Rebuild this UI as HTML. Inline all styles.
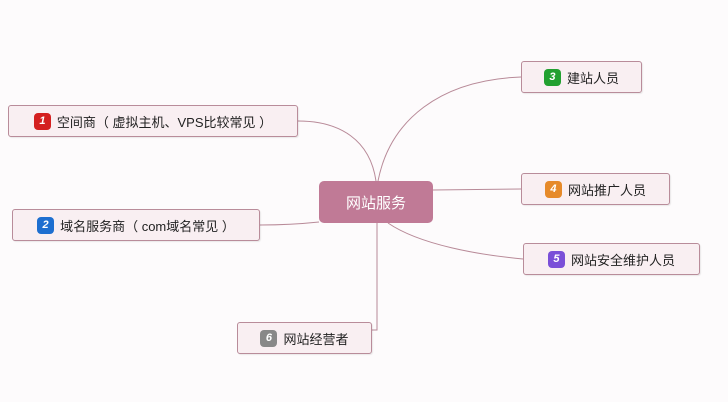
<!DOCTYPE html>
<html><head><meta charset="utf-8"><style>
body{margin:0;width:728px;height:402px;background:#fdfbfc;position:relative;overflow:hidden;font-family:"Liberation Sans","Noto Sans CJK SC",sans-serif}
.n{position:absolute;height:32px;border:1px solid #b98c9a;border-radius:3px;background:#f9eff2;box-sizing:border-box;font-size:13px;color:#222;display:flex;align-items:center;justify-content:center;gap:6px;box-shadow:1px 1px 1px rgba(0,0,0,.08)}
.i{width:17px;height:17px;border-radius:4px;color:#fff;font-size:11px;font-style:italic;font-weight:bold;display:flex;align-items:center;justify-content:center}
.c{position:absolute;left:319px;top:181px;width:114px;height:42px;background:#c07a96;border-radius:5px;color:#fff;font-size:15px;display:flex;align-items:center;justify-content:center}
</style></head><body>
<svg width="728" height="402" style="position:absolute;left:0;top:0">
<g fill="none" stroke="#b88a98" stroke-width="1">
<path d="M376 181 C370 140,340 121,298 121"/>
<path d="M378 181 C390 120,440 80,521 77"/>
<path d="M433 190 L521 189"/>
<path d="M388 223 C420 245,480 255,523 259"/>
<path d="M377 223 L377 330 L372 330"/>
<path d="M319 222 C300 224,280 225,260 225"/>
</g></svg>
<div class="c">网站服务</div>
<div class="n" style="left:8px;top:105px;width:290px"><span class="i" style="background:#d42020">1</span>空间商（ 虚拟主机、VPS比较常见 ）</div>
<div class="n" style="left:12px;top:209px;width:248px"><span class="i" style="background:#1e6fd0">2</span>域名服务商（ com域名常见 ）</div>
<div class="n" style="left:521px;top:61px;width:121px"><span class="i" style="background:#22a030">3</span>建站人员</div>
<div class="n" style="left:521px;top:173px;width:149px"><span class="i" style="background:#e68a2a">4</span>网站推广人员</div>
<div class="n" style="left:523px;top:243px;width:177px"><span class="i" style="background:#7a4fd8">5</span>网站安全维护人员</div>
<div class="n" style="left:237px;top:322px;width:135px"><span class="i" style="background:#888">6</span>网站经营者</div>
</body></html>
